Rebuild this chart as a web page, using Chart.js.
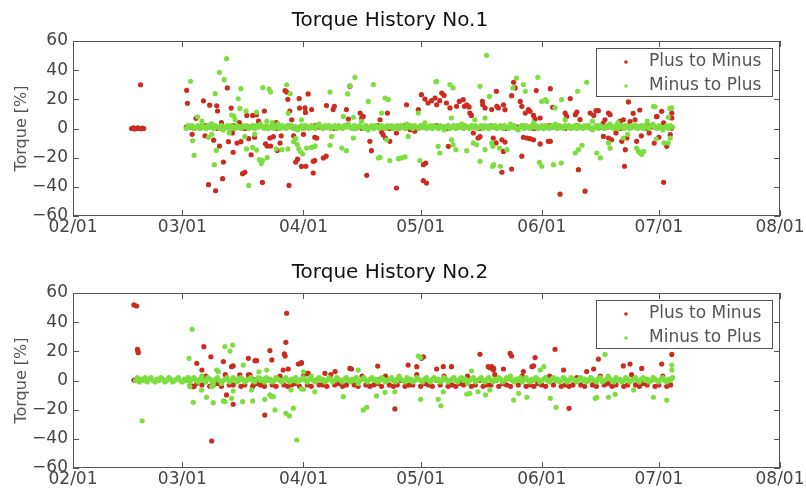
<!DOCTYPE html>
<html>
<head>
<meta charset="utf-8">
<script src="https://cdn.jsdelivr.net/npm/chart.js@4.4.1/dist/chart.umd.min.js"></script>
<style>
  html, body { margin: 0; padding: 0; background: #fff; overflow: hidden; }
  canvas { display: block; }
</style>
</head>
<body>
<canvas id="chart1" width="806" height="252"></canvas>
<canvas id="chart2" width="806" height="246"></canvas>
<script>
// x values are days counted from 02/01
const xTickDays = [0, 28, 59, 89, 120, 150, 181];
const xTickLabels = ["02/01", "03/01", "04/01", "05/01", "06/01", "07/01", "08/01"];
const yMin = -60, yMax = 60, yStep = 20;

const chartTitles = ["Torque History No.1", "Torque History No.2"];
const seriesNames = ["Plus to Minus", "Minus to Plus"];
const yTitle = "Torque [%]";

// ---- History No.1 ----
const h1PlusPoints = [
  [15,0],[15.4,0.5],[15.8,-0.3],[16.2,0],[16.6,0.4],[17,0],[17.4,-0.2],[17.8,0.3],[18.1,0],[17.3,30],
  [29.1,26.2],[29.3,17.3],[30.5,-4],[31.5,7],[33.4,19],[33.8,-5],[34.7,-38.5],[35,16],[35.5,3],[36,-8],
  [36.5,-42.7],[36.8,15.6],[37,12],[37.5,-12],[38,4],[38.3,-34.4],[38.5,-23],[39.5,27.8],[39.8,-9],[40.5,14],
  [40.8,-3],[41,-16.3],[42,-10],[42.6,4],[43,-9],[43.4,-31],[44,-30],[44.5,9],[45,-7],[45.6,-18],
  [46,9],[46.5,-6],[47,9.5],[47.5,5],[48.5,-37],[49,12],[49.3,-10.5],[49.7,-12],[50.4,-6.5],[50.6,-12],
  [51.3,-5.6],[52,4],[52.3,-15],[53,-10],[53.3,-5],[54.3,26],[54.7,25],[55,20],[55.3,-39],[55.5,12],
  [56,6],[56.5,-5],[57,-23],[57.5,-21],[57.9,20.5],[58,14],[58.5,-26],[59.5,11],[59,-4],
  [60.2,23.7],[59.4,14.1],[61.1,13],[61.9,-6],[62.4,-6.5],[59.6,-25.9],[61.5,-30.5],[61.5,-22.5],[61.9,-22],[64.1,-20.2],
  [64.8,-19],[64.9,15.7],[66.6,13],[66.9,15.2],[70,13],[70.5,6.5],[70.9,28.9],[73.9,7.2],[74.3,8.3],[73.5,10.6],
  [75.2,-32.1],[76,-8.8],[76.4,-15.2],[78.6,6],[79,-2.4],[79.4,-4.2],[80,-6.5],[80.5,10.6],[81.1,-8.8],[82.8,-3.1],
  [82.8,-40.8],[85.4,16.3],[86.3,-0.8],[87.5,-1.9],[88.4,13],[89.2,23.2],[90.1,20.2],[90.9,17.5],[91.8,19.1],[92.7,20.9],
  [93.1,16.3],[89.7,-24.8],[90.3,-23.7],[89.7,-35.8],[90.5,-37.4],[94.4,24.3],[95,22.7],[93.9,19.1],[95.6,17.5],[96.5,14.1],
  [98.2,15.2],[98.9,18.6],[99.9,19.8],[100.2,15.2],[100.8,16.3],[101.4,14.8],[101.6,10.6],[102,9],[96.1,-12.2],[102.5,-3.1],
  [103.7,-6.5],[104.2,-5.6],[104.8,18.6],[104.9,16.3],[105.5,14.1],[107.2,13],[107.6,-6.5],[108.4,25.5],
  [108.5,15.2],[108.9,14.1],[110.2,16.3],[110.6,12.9],[112.8,31.7],[112.3,22.5],[113.2,27.8],[114.5,18.6],[114.9,15.2],[115.8,10.6],
  [116.6,12.9],[117,11.8],[117.9,9],[118.3,6.5],[118.6,26],[119.6,7.2],[122.2,27.3],[122.8,14.5],[127.3,20.5],[126,10.6],
  [126.4,8.3],[128.6,9.5],[129,11.3],[129.8,6.1],[132.4,10.6],[133.3,9],[133.9,12.2],[134.5,12.2],[136.2,6],[137.1,10.6],
  [137.5,9.5],[140.1,5],[140.9,6],[142.2,18.2],[143.9,6],[146.9,2.6],[149.5,8.3],[150.7,11.8],[151.2,3.8],[153.3,10.6],
  [153.3,7.2],[153.3,0.3],[108.3,-9.9],[109.8,-7.7],[110.6,-9.3],[110.2,-15.7],[114.9,-19],[115.3,-6],[116.2,-6.5],[117,-7],
  [117.9,-7.7],[109.8,-30],[112.3,-27.8],[119.6,-10.6],[121.7,-8.8],[122.2,-8.8],[124.7,-45],[129.4,-28.2],[131.1,-43],[135.8,-5.4],
  [137.1,-6.5],[137.9,-7.7],[140.5,-8.8],[141.2,-25.9],[141.4,-14.5],[141.8,-6.5],[144.3,-8.8],[151.2,-36.9],[152,-12.2],[152.9,-4.2],
  [143.4,10.4],[145.1,12.7],[149.4,8.1],[142.6,4.7],[135.7,3.5],[147.5,-3],[145.5,-5],[139,-3],[148.8,-10],[150,-6]
];
const h1PlusBandStart = 29, h1PlusBandStep = 1;
const h1PlusBand = [
  1,1,0,1,1,2,1,1,0,1,1,1,2,1,1,0,1,1,1,2,1,1,1,0,1,
  1,2,1,1,1,0,1,1,2,1,1,1,1,0,1,1,2,1,1,1,0,1,1,1,2,
  1,1,0,1,1,1,2,1,1,0,1,1,1,1,2,1,1,0,1,1,1,2,1,1,1,
  0,1,1,2,1,1,1,0,1,1,1,2,1,1,0,1,1,1,2,1,1,1,0,1,1,
  2,1,1,1,0,1,1,2,1,1,1,0,1,1,1,2,1,1,0,1,1,1,2,1,1
];
const h1MinusPoints = [
  [39.3,47.9],[37.5,38.5],[38.7,33.5],[30.1,32.4],[36.4,23.9],[43,27.3],[48.6,28],[50.2,27],[50.6,25],[54.7,30],
  [55.6,24],[42.3,20.4],[44.3,12],[47,11],[49.6,5],[31.9,8],[30.6,-8.4],[31,-18.4],[36.2,-24.8],[36.7,-15],
  [34.7,-6],[45,-39],[47.7,-21.4],[48.2,-24],[49.7,-20],[44.4,-14],[46,-13],[52,-14],[53.5,-14.5],[55,-14],
  [57,-7],[57.8,-14],[58.3,-16],[33,5],[35.5,-4],[40,-3],[41.5,6],[46.5,-4],[51,4],[52.5,3],
  [56.5,-9],[57.4,-11],[58.8,-17.5],[40.6,9.2],[41.2,8.5],[42.7,13.8],[44,-5.6],[47,-14.8],[48.5,-22],[55.1,10.4],
  [61,-13],[62,-12],
  [72.2,35.1],[70.9,29.4],[65.8,25],[70.3,23.7],[76.9,30.1],[79.9,20.9],[80.7,19.8],[75.6,18.6],[69.2,8.3],[71.8,7.7],
  [73.9,4.9],[79,10.6],[93.1,32.3],[96.5,30.1],[97.3,27.8],[104.2,28.9],[105.9,50.2],[106.6,22],[88.4,10.6],[90.1,3.8],
  [96.9,7.2],[102.9,6],[105.5,7.2],[59.8,-13.4],[61.9,-12.2],[65.8,-11.5],[68.8,-13.4],[70,-15.2],[78.2,-20.2],[78.6,-19.8],
  [81.1,-22],[83.3,-20.7],[84.1,-20.2],[85,-19.5],[85.8,-5.4],[88.8,-22],[93.5,-12.2],[93.9,-16.8],[97.3,-11.1],[98,-14.5],
  [100.8,-15.2],[104.2,-22.5],[107.4,-25.9],[105.5,-14.5],[103.3,-11.1],[102.5,-9.9],[58.5,6],[66.2,-5.4],[71.8,-6.5],[80.3,-7.7],
  [96.9,-7.7],[92.9,32],
  [113.5,34.6],[119,35.1],[115.8,25.5],[115.3,30.1],[112.6,27.8],[131.5,31.7],[129.2,25.5],[120,18.6],[120.9,19.8],[121.3,18.6],
  [125.1,19.8],[123.4,14.1],[117.9,3.8],[148.6,15.2],[153.3,14.1],[152.4,7.7],[107.2,-9.9],[107.5,-12.2],[109.2,-13.4],[111.1,-14.5],
  [109.4,-25.9],[107.7,-24.8],[119.4,-23.2],[120,-25.9],[123,-24.8],[125,-23.7],[128.6,-16.8],[129.4,-14.5],[130.3,-11.5],[134.1,-16.8],
  [135,-20.2],[137.1,-9.9],[137.5,-13.4],[140.9,-6.5],[144.3,-13.4],[144.8,-15.7],[145.2,-16.8],[145.6,-17.9],[146.1,-15.7],[149.3,-7.2],
  [151.3,-9.9],[152.4,-9.9],[152.9,-6.5],[149,15],[152.8,13.8],[126,6],[133,5],[139.5,4],[142,-4],[147,5]
];
const h1MinusBandStart = 29, h1MinusBandStep = 0.5;
const h1MinusBand = [
  0,2,1,2,0,1,2,0,2,1,0,2,1,3,0,2,1,0,2,-1,1,2,0,2,1,
  0,2,1,0,2,1,2,0,1,2,0,2,1,3,1,0,2,0,1,2,0,2,1,0,2,
  1,0,2,1,2,0,1,-1,1,2,0,2,1,0,2,1,0,2,3,1,0,2,1,2,0,
  1,2,0,2,1,0,2,1,3,1,0,2,0,1,2,1,0,2,-1,1,2,0,2,1,0,
  2,1,0,2,1,2,0,1,2,0,2,1,0,3,1,2,0,2,1,0,2,1,2,0,1,
  2,0,2,1,0,2,1,-1,1,2,0,1,2,0,2,1,3,0,2,1,0,2,1,2,0,
  1,2,0,2,1,0,2,1,2,0,1,2,0,2,1,0,3,1,2,0,-1,1,2,0,2,
  1,0,2,1,2,0,1,2,0,2,1,0,2,1,3,0,2,1,0,2,1,2,0,1,2,
  0,2,1,0,2,1,2,0,-1,1,2,0,2,1,0,2,1,3,1,0,2,0,1,2,0,
  2,1,0,2,1,2,0,1,2,0,2,1,0,2,3,1,0,2,1,-1,1,2,0,2,1
];

// ---- History No.2 ----
const h2PlusPoints = [
  [15.6,51.8],[16.3,51.1],[16.5,21.4],[16.6,20.2],[16.7,19.1],[15.6,0.3],[35.5,-41.5],[33.5,23.2],[31.7,11.8],[33,7.2],
  [35.3,16.3],[38.5,13],[39.3,-9.9],[41,-16.3],[40.6,9.5],[41,10],[44.9,15.2],[46.6,13.6],[47,13.6],[45.3,3.8],
  [49.1,-23.7],[50.4,20.5],[50.9,14.1],[54.3,16.8],[54.1,18.2],[54.5,26.2],[54.7,46.1],[53.8,7.2],[55.1,7.9],[57.7,11.3],
  [58.4,11.8],[59.8,4.9],[30.8,-4.2],[31.7,-1.9],[35.9,-1.9],[42.7,3.8],[46.2,-3.1],[44.9,3.8],[46.1,0.8],
  [58.5,12.2],[59.8,4.5],[60.2,4.9],[64.5,4.9],[67.1,6.1],[70.9,8.3],[71.3,7.9],[78,9.9],[78.6,0.8],[82.4,-19.5],
  [85.8,10.6],[88,9.5],[89.2,15.2],[89.7,16.3],[93.1,7.9],[94.8,9.5],[96.9,9.5],[104.2,18],[106.3,9.5],[106.7,8.8],
  [107.6,7.2],
  [111.9,18.6],[112.3,16.8],[118.3,15.7],[117.5,9.5],[117.9,10],[123.4,21.4],[110.2,7.9],[115.3,6.1],[107.2,9.5],[107.7,8.3],
  [125.6,7.2],[131.5,6.1],[134.5,14.7],[133.3,7.9],[140.9,10],[142.6,11.3],[145.6,8.3],[150.7,11.3],[153.3,17.9],[127,-19.1]
];
const h2PlusBandStart = 30, h2PlusBandStep = 1;
const h2PlusBand = [
  -3,-4,0,-3,3,-4,-3,-2,-4,4,-3,-3,0,-4,-3,3,-4,-2,-3,-4,0,-3,-4,3,-3,
  -4,-3,-2,-4,3,-3,-4,0,-3,-3,-4,4,-3,-2,-4,-3,0,-3,-4,3,-3,-4,-3,-2,-4,
  3,-3,-4,-3,0,-4,-3,-3,4,-4,-2,-3,-4,0,-3,3,-4,-3,-4,-2,-3,3,-4,-3,0,
  -4,-3,-3,4,-4,-2,-3,-4,0,-3,3,-4,-3,-4,-2,-3,-4,3,-3,0,-4,-3,-4,-3,2,
  -3,-4,0,-3,-4,3,-3,-2,-4,-3,0,-4,-3,4,-3,-4,-2,-3,0,-4,-3,3,-4,-3
];
const h2MinusPoints = [
  [17.7,-27.6],[30.5,35.1],[29.7,15.2],[29.9,-4.2],[30.8,-14.9],[32.9,-6.5],[34.2,-11.5],[35.5,-4.2],[35.9,-3.1],[36.8,7.2],
  [37.2,6],[38.9,23.2],[40.2,20.2],[40.9,24.3],[35.9,-15.2],[38.5,-14],[38.9,-14.5],[40.6,-12.2],[41,-7.2],[43.4,-14.5],
  [43.6,10.6],[46,-14],[45.7,-6.5],[47.6,6],[49.6,7.2],[49.1,-12.9],[50.4,-9.9],[50.9,-11.1],[51.3,-11.1],[51.7,-20.2],
  [54.5,-22.5],[55.4,-24.3],[56.4,-19],[57.3,-40.8],[55.8,-6.5],[58.5,-5.8],[59,6],
  [88.4,16.8],[89,15.7],[73,7.2],[69.2,-11.1],[74.3,-20.2],[75.2,-18.4],[61.9,-7.7],[59,-6],[77.7,-10.6],
  [79.9,-8.1],[82.4,-7.7],[89,-12.9],[93.5,-12.9],[94.2,-17.3],[94.8,-7.7],[100.8,-9.3],[101.6,-8.8],[103.7,-7.7],[105.6,-9.9],
  [106.7,-6.5],[102,6.5],
  [136.2,17.9],[120.5,9.5],[119.6,7.2],[112.8,-13.4],[116.2,-11.5],[114.1,-8.8],[122.2,-12.2],[123.7,-18.4],[133.7,-12.2],[134.1,-11.5],
  [137.1,-11.5],[138.8,-9.5],[143.5,-6.5],[148.6,-11.5],[152,-13.4],[153.3,10.6],[153.3,7.2]
];
const h2MinusBandStart = 16, h2MinusBandStep = 0.5;
const h2MinusBand = [
  0,2,-1,1,0,2,-1,1,2,0,-1,1,0,2,1,-1,0,2,1,-1,0,1,2,0,-1,
  1,0,2,-1,1,2,0,-1,1,3,0,-1,2,1,0,-1,1,2,0,-2,0,1,2,-1,0,
  2,1,-1,0,2,1,-1,0,1,2,0,-1,1,2,0,1,-1,2,0,1,-1,0,2,1,0,
  -1,1,2,0,-1,1,0,2,-1,0,1,2,0,-1,1,3,0,-1,1,2,0,1,-1,0,2,
  1,-1,0,2,1,0,-1,1,2,0,-1,1,0,2,-2,0,1,2,0,-1,1,2,0,1,-1,
  0,2,1,-1,0,1,2,0,-1,1,3,1,0,-1,2,0,1,-1,0,2,1,0,-1,1,2,
  0,-1,1,2,0,1,-1,0,2,1,-1,0,1,2,0,-1,1,2,0,1,-2,0,1,2,-1,
  0,1,2,0,-1,1,2,0,-1,1,0,2,1,-1,0,2,1,3,0,-1,1,0,2,-1,1,
  2,0,-1,1,0,2,1,-1,0,1,2,0,-1,1,2,0,1,-1,0,2,1,-1,0,2,1,
  0,-1,1,2,0,1,-1,0,2,1,0,-1,1,2,-1,0,1,3,1,0,-1,2,0,1,-1,
  0,2,1,-1,0,1,2,0,-1,1,2,0,1,-1,0,2,1,0,-1,1,2,0,-1,1,0,
  2
];

const plusColor = "#cc2b1f";
const minusColor = "#7ddf3f";
const textFont = "'DejaVu Sans', sans-serif";

function toPoints(pairs, band, start, step) {
  const pts = pairs.map(([x, y]) => ({ x, y }));
  band.forEach((y, i) => pts.push({ x: start + i * step, y }));
  return pts;
}

// frame and inward tick marks on all four sides
const frameTicks = {
  id: "frameTicks",
  afterDatasetsDraw(chart) {
    const { ctx, chartArea: a, scales: { x, y } } = chart;
    const len = 6;
    ctx.save();
    ctx.strokeStyle = "#555";
    ctx.lineWidth = 1;
    ctx.beginPath();
    x.ticks.forEach(t => {
      const px = Math.round(x.getPixelForValue(t.value)) + 0.5;
      ctx.moveTo(px, a.bottom); ctx.lineTo(px, a.bottom - len);
      ctx.moveTo(px, a.top); ctx.lineTo(px, a.top + len);
    });
    y.ticks.forEach(t => {
      const py = Math.round(y.getPixelForValue(t.value)) + 0.5;
      ctx.moveTo(a.left, py); ctx.lineTo(a.left + len, py);
      ctx.moveTo(a.right, py); ctx.lineTo(a.right - len, py);
    });
    ctx.stroke();
    ctx.strokeRect(a.left + 0.5, a.top + 0.5, a.right - a.left - 1, a.bottom - a.top - 1);
    ctx.restore();
  }
};

// legend box drawn inside the plot, upper right
const innerLegend = {
  id: "innerLegend",
  afterDraw(chart) {
    const { ctx, chartArea: a } = chart;
    const w = 177, h = 49;
    const bx = a.right - 7 - w, by = a.top + 7;
    ctx.save();
    ctx.fillStyle = "#fff";
    ctx.fillRect(bx, by, w, h);
    ctx.strokeStyle = "#555";
    ctx.lineWidth = 1;
    ctx.strokeRect(bx + 0.5, by + 0.5, w - 1, h - 1);
    ctx.font = "17px " + textFont;
    ctx.textBaseline = "middle";
    chart.data.datasets.forEach((ds, i) => {
      const ry = by + 14 + i * 24;
      ctx.fillStyle = ds.backgroundColor;
      ctx.beginPath();
      ctx.arc(bx + 30, ry, 1.8, 0, Math.PI * 2);
      ctx.fill();
      ctx.fillStyle = "#555";
      ctx.fillText(ds.label, bx + 53, ry);
    });
    ctx.restore();
  }
};

function makeChart(id, title, plusPts, minusPts, height) {
  const ctx = document.getElementById(id).getContext("2d");
  return new Chart(ctx, {
    type: "scatter",
    data: {
      datasets: [
        { label: seriesNames[0], data: plusPts, backgroundColor: plusColor, order: 1 },
        { label: seriesNames[1], data: minusPts, backgroundColor: minusColor, order: 0 }
      ]
    },
    options: {
      responsive: false,
      animation: false,
      events: [],
      layout: { padding: { left: 0, right: 26, top: 0, bottom: 0 } },
      elements: { point: { radius: 2.6, borderWidth: 0, hoverRadius: 2.6 } },
      plugins: {
        legend: { display: false },
        tooltip: { enabled: false },
        title: {
          display: true,
          text: title,
          color: "#111",
          font: { family: textFont, size: 20, weight: "normal", lineHeight: 1.2 },
          padding: { top: 9, bottom: 8 }
        }
      },
      scales: {
        x: {
          type: "linear",
          min: xTickDays[0],
          max: xTickDays[xTickDays.length - 1],
          grid: { display: false, drawTicks: false },
          border: { display: false },
          afterBuildTicks: s => { s.ticks = xTickDays.map(v => ({ value: v })); },
          afterFit: s => { s.height = height - 216; },
          ticks: {
            autoSkip: false,
            maxRotation: 0,
            padding: 1,
            color: "#444",
            font: { family: textFont, size: 17 },
            callback: v => xTickLabels[xTickDays.indexOf(v)]
          }
        },
        y: {
          min: yMin,
          max: yMax,
          grid: { display: false, drawTicks: false },
          border: { display: false },
          afterFit: s => { s.width = 73; },
          title: {
            display: true,
            text: yTitle,
            color: "#555",
            font: { family: textFont, size: 16 },
            padding: { top: 12, bottom: 0 }
          },
          ticks: {
            stepSize: yStep,
            padding: 5,
            color: "#444",
            font: { family: textFont, size: 17 },
            callback: v => (v < 0 ? "\u2212" + Math.abs(v) : String(v))
          }
        }
      }
    },
    plugins: [frameTicks, innerLegend]
  });
}

makeChart("chart1", chartTitles[0],
  toPoints(h1PlusPoints, h1PlusBand, h1PlusBandStart, h1PlusBandStep),
  toPoints(h1MinusPoints, h1MinusBand, h1MinusBandStart, h1MinusBandStep), 252);
makeChart("chart2", chartTitles[1],
  toPoints(h2PlusPoints, h2PlusBand, h2PlusBandStart, h2PlusBandStep),
  toPoints(h2MinusPoints, h2MinusBand, h2MinusBandStart, h2MinusBandStep), 246);
</script>
</body>
</html>
